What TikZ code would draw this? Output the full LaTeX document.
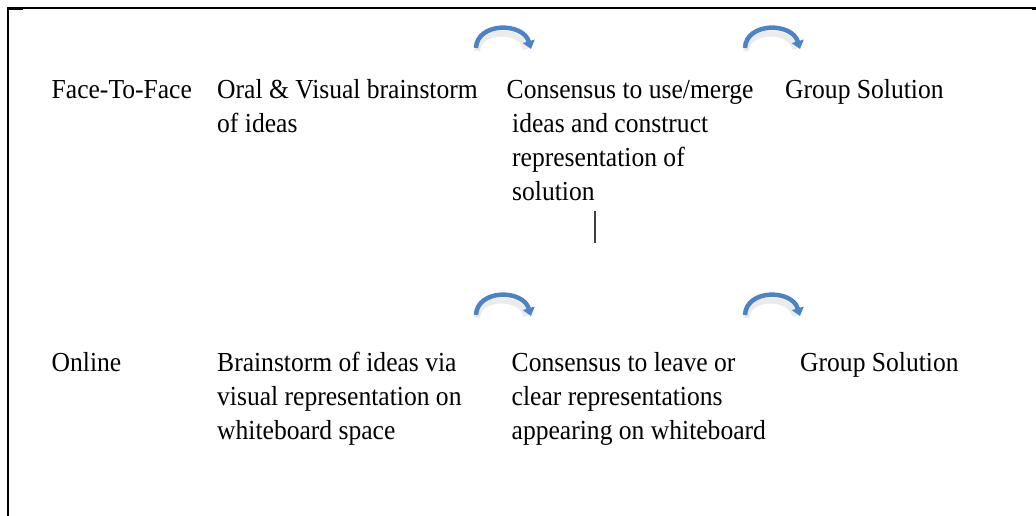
\documentclass[tikz,border=0pt]{standalone}
\usepackage{fontspec}
\setmainfont{Liberation Serif}[FakeStretch=0.93]
\usetikzlibrary{arrows.meta}
\definecolor{arrowblue}{HTML}{4A84C6}
\begin{document}
\begin{tikzpicture}[x=1pt,y=-1pt,
  lbl/.style={anchor=base west,inner sep=0pt,font=\fontsize{27.5}{34}\selectfont},
  curvearrow/.style={draw=arrowblue,line width=4.5pt,-{Triangle[length=8pt,width=12pt]}},
  curveshadow/.style={draw=black,opacity=0.08,line width=6pt}]
\useasboundingbox (0,0) rectangle (1036,516);
% frame
\draw[line width=1.2pt] (7,8) -- (1036,8);
\draw[line width=1.8pt] (8,8) -- (8,516);
\draw[line width=2.2pt] (7,9) -- (23,9);
\draw[line width=2.2pt] (1032,9) -- (1036,9);
% row 1
\node[lbl] (f2f) at (51.5,99) {Face-To-Face};
\node[lbl] (oral) at (217,99) {\begin{tabular}[t]{@{}l@{}}Oral \& Visual brainstorm\\of ideas\end{tabular}};
\node[lbl] (cons1) at (506.5,99) {\begin{tabular}[t]{@{}l@{}}Consensus to use/merge\\\hspace*{5.5pt}ideas and construct\\\hspace*{5.5pt}representation of\\\hspace*{5.5pt}solution\end{tabular}};
\node[lbl] (gs1) at (785,99) {Group Solution};
% row 2
\node[lbl] (online) at (51.5,371.5) {Online};
\node[lbl] (brain) at (217,371.5) {\begin{tabular}[t]{@{}l@{}}Brainstorm of ideas via\\visual representation on\\whiteboard space\end{tabular}};
\node[lbl] (cons2) at (511.5,371.5) {\begin{tabular}[t]{@{}l@{}}Consensus to leave or\\clear representations\\appearing on whiteboard\end{tabular}};
\node[lbl] (gs2) at (800,371.5) {Group Solution};
% vertical mark
\coordinate (vtop) at (595,211);
\coordinate (vbot) at (595,243);
\draw[line width=1.2pt,black!75] (vtop) -- (vbot);
% curved arrows
\foreach \dx/\dy [count=\i] in {0/0,269/0,0/267,269/267}{
  \begin{scope}[shift={(\dx,\dy)}]
    \coordinate (a\i s) at (476,48);
    \coordinate (a\i e) at (531,49);
    \draw[curveshadow] (477,51) .. controls (478,28) and (523,28) .. (526,49);
    \draw[curvearrow] (a\i s) .. controls (477,22) and (523,22) .. (a\i e);
  \end{scope}
}
\end{tikzpicture}
\end{document}
